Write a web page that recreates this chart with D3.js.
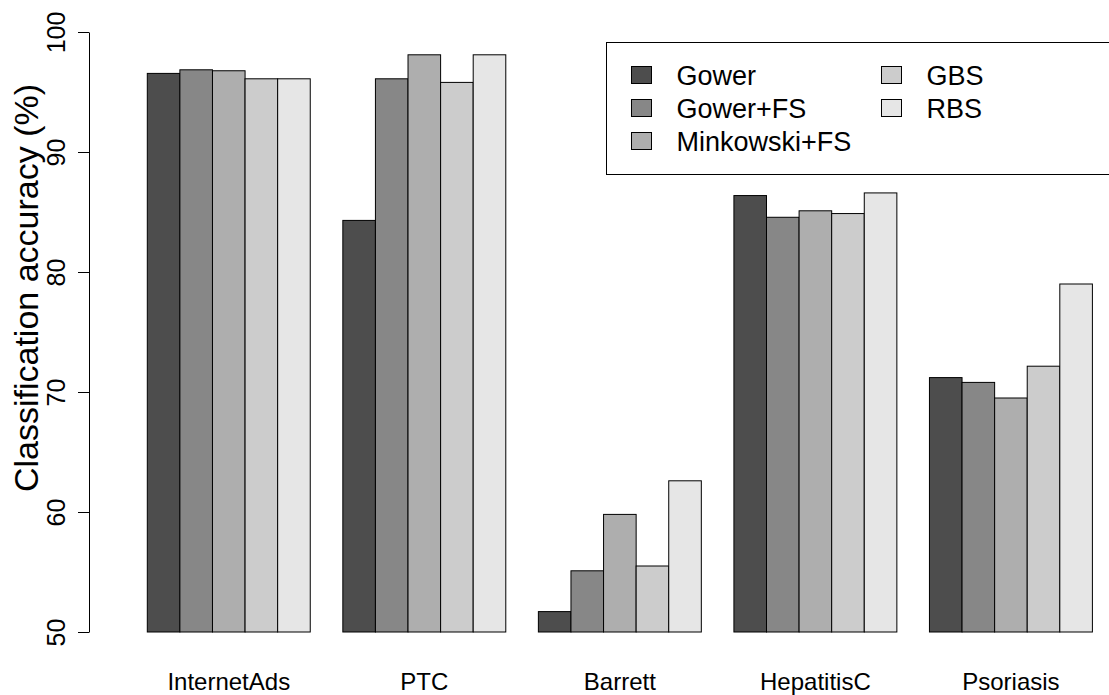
<!DOCTYPE html>
<html>
<head>
<meta charset="utf-8">
<script src="https://cdn.jsdelivr.net/npm/d3@7"></script>
<style>
  body { margin: 0; background: #fff; }
  text { font-family: "Liberation Sans", Arial, sans-serif; }
</style>
</head>
<body>
<div id="chart"></div>
<script>
const width = 1109;
const height = 695;

// data
const datasets = ["InternetAds", "PTC", "Barrett", "HepatitisC", "Psoriasis"];
const methods = ["Gower", "Gower+FS", "Minkowski+FS", "GBS", "RBS"];
const gower       = [96.55, 84.3, 51.7, 86.37, 71.2];
const gowerFS     = [96.85, 96.1, 55.1, 84.56, 70.8];
const minkowskiFS = [96.77, 98.1, 59.8, 85.1, 69.5];
const gbs         = [96.1, 95.8, 55.5, 84.87, 72.15];
const rbs         = [96.1, 98.1, 62.6, 86.59, 79.0];
const yTicks = [50, 60, 70, 80, 90, 100];

const series = [gower, gowerFS, minkowskiFS, gbs, rbs];
const colors = ["#4D4D4D", "#878787", "#AEAEAE", "#CCCCCC", "#E6E6E6"];

const svg = d3.select("#chart")
    .append("svg")
    .attr("width", width)
    .attr("height", height);

const y = d3.scaleLinear().domain([50, 100]).range([632, 32]);

const x0 = d3.scaleBand()
    .domain(datasets)
    .range([147.3, 1092.4])
    .paddingInner(1 / 6)
    .paddingOuter(0);

const x1 = d3.scaleBand()
    .domain(methods)
    .range([0, x0.bandwidth()]);

const color = d3.scaleOrdinal().domain(methods).range(colors);

// bars
const groups = svg.selectAll("g.group")
    .data(datasets)
    .enter()
    .append("g")
    .attr("class", "group")
    .attr("transform", d => `translate(${x0(d)},0)`);

groups.selectAll("rect")
    .data((d, i) => methods.map((m, j) => ({ method: m, value: series[j][i] })))
    .enter()
    .append("rect")
    .attr("x", d => x1(d.method))
    .attr("y", d => y(d.value))
    .attr("width", x1.bandwidth())
    .attr("height", d => y(50) - y(d.value))
    .attr("fill", d => color(d.method))
    .attr("stroke", "#000")
    .attr("stroke-width", 1);

// y axis
const axisX = 89;
const yAxis = svg.append("g")
    .attr("transform", `translate(${axisX},0)`)
    .call(d3.axisLeft(y).tickValues(yTicks).tickSize(11).tickSizeOuter(0).tickFormat(""));
yAxis.selectAll("path, line").attr("stroke", "#000");

yAxis.selectAll(".tick")
    .append("text")
    .attr("transform", "translate(-24,0) rotate(-90)")
    .attr("text-anchor", "middle")
    .attr("fill", "#000")
    .attr("font-size", "25px")
    .text(d => d);

// y title
svg.append("text")
    .attr("transform", "translate(38,288) rotate(-90)")
    .attr("text-anchor", "middle")
    .attr("font-size", "34px")
    .text("Classification accuracy (%)");

// x labels
svg.selectAll("text.xlab")
    .data(datasets)
    .enter()
    .append("text")
    .attr("class", "xlab")
    .attr("x", d => x0(d) + x0.bandwidth() / 2)
    .attr("y", 690)
    .attr("text-anchor", "middle")
    .attr("font-size", "24px")
    .text(d => d);

// legend
const legend = svg.append("g");
legend.append("rect")
    .attr("x", 606.5)
    .attr("y", 42.5)
    .attr("width", 520)
    .attr("height", 132)
    .attr("fill", "#fff")
    .attr("stroke", "#000")
    .attr("stroke-width", 1);

const legendItems = legend.selectAll("g.item")
    .data(methods)
    .enter()
    .append("g")
    .attr("class", "item")
    .attr("transform", (d, i) => {
        const col = i < 3 ? 0 : 1;
        const row = i < 3 ? i : i - 3;
        return `translate(${col === 0 ? 631.5 : 881.5},${75 + row * 33})`;
    });

legendItems.append("rect")
    .attr("x", 0)
    .attr("y", -8.5)
    .attr("width", 20)
    .attr("height", 17)
    .attr("fill", d => color(d))
    .attr("stroke", "#000");

legendItems.append("text")
    .attr("x", 45)
    .attr("y", 0)
    .attr("dy", "0.36em")
    .attr("font-size", "27px")
    .text(d => d);
</script>
</body>
</html>
